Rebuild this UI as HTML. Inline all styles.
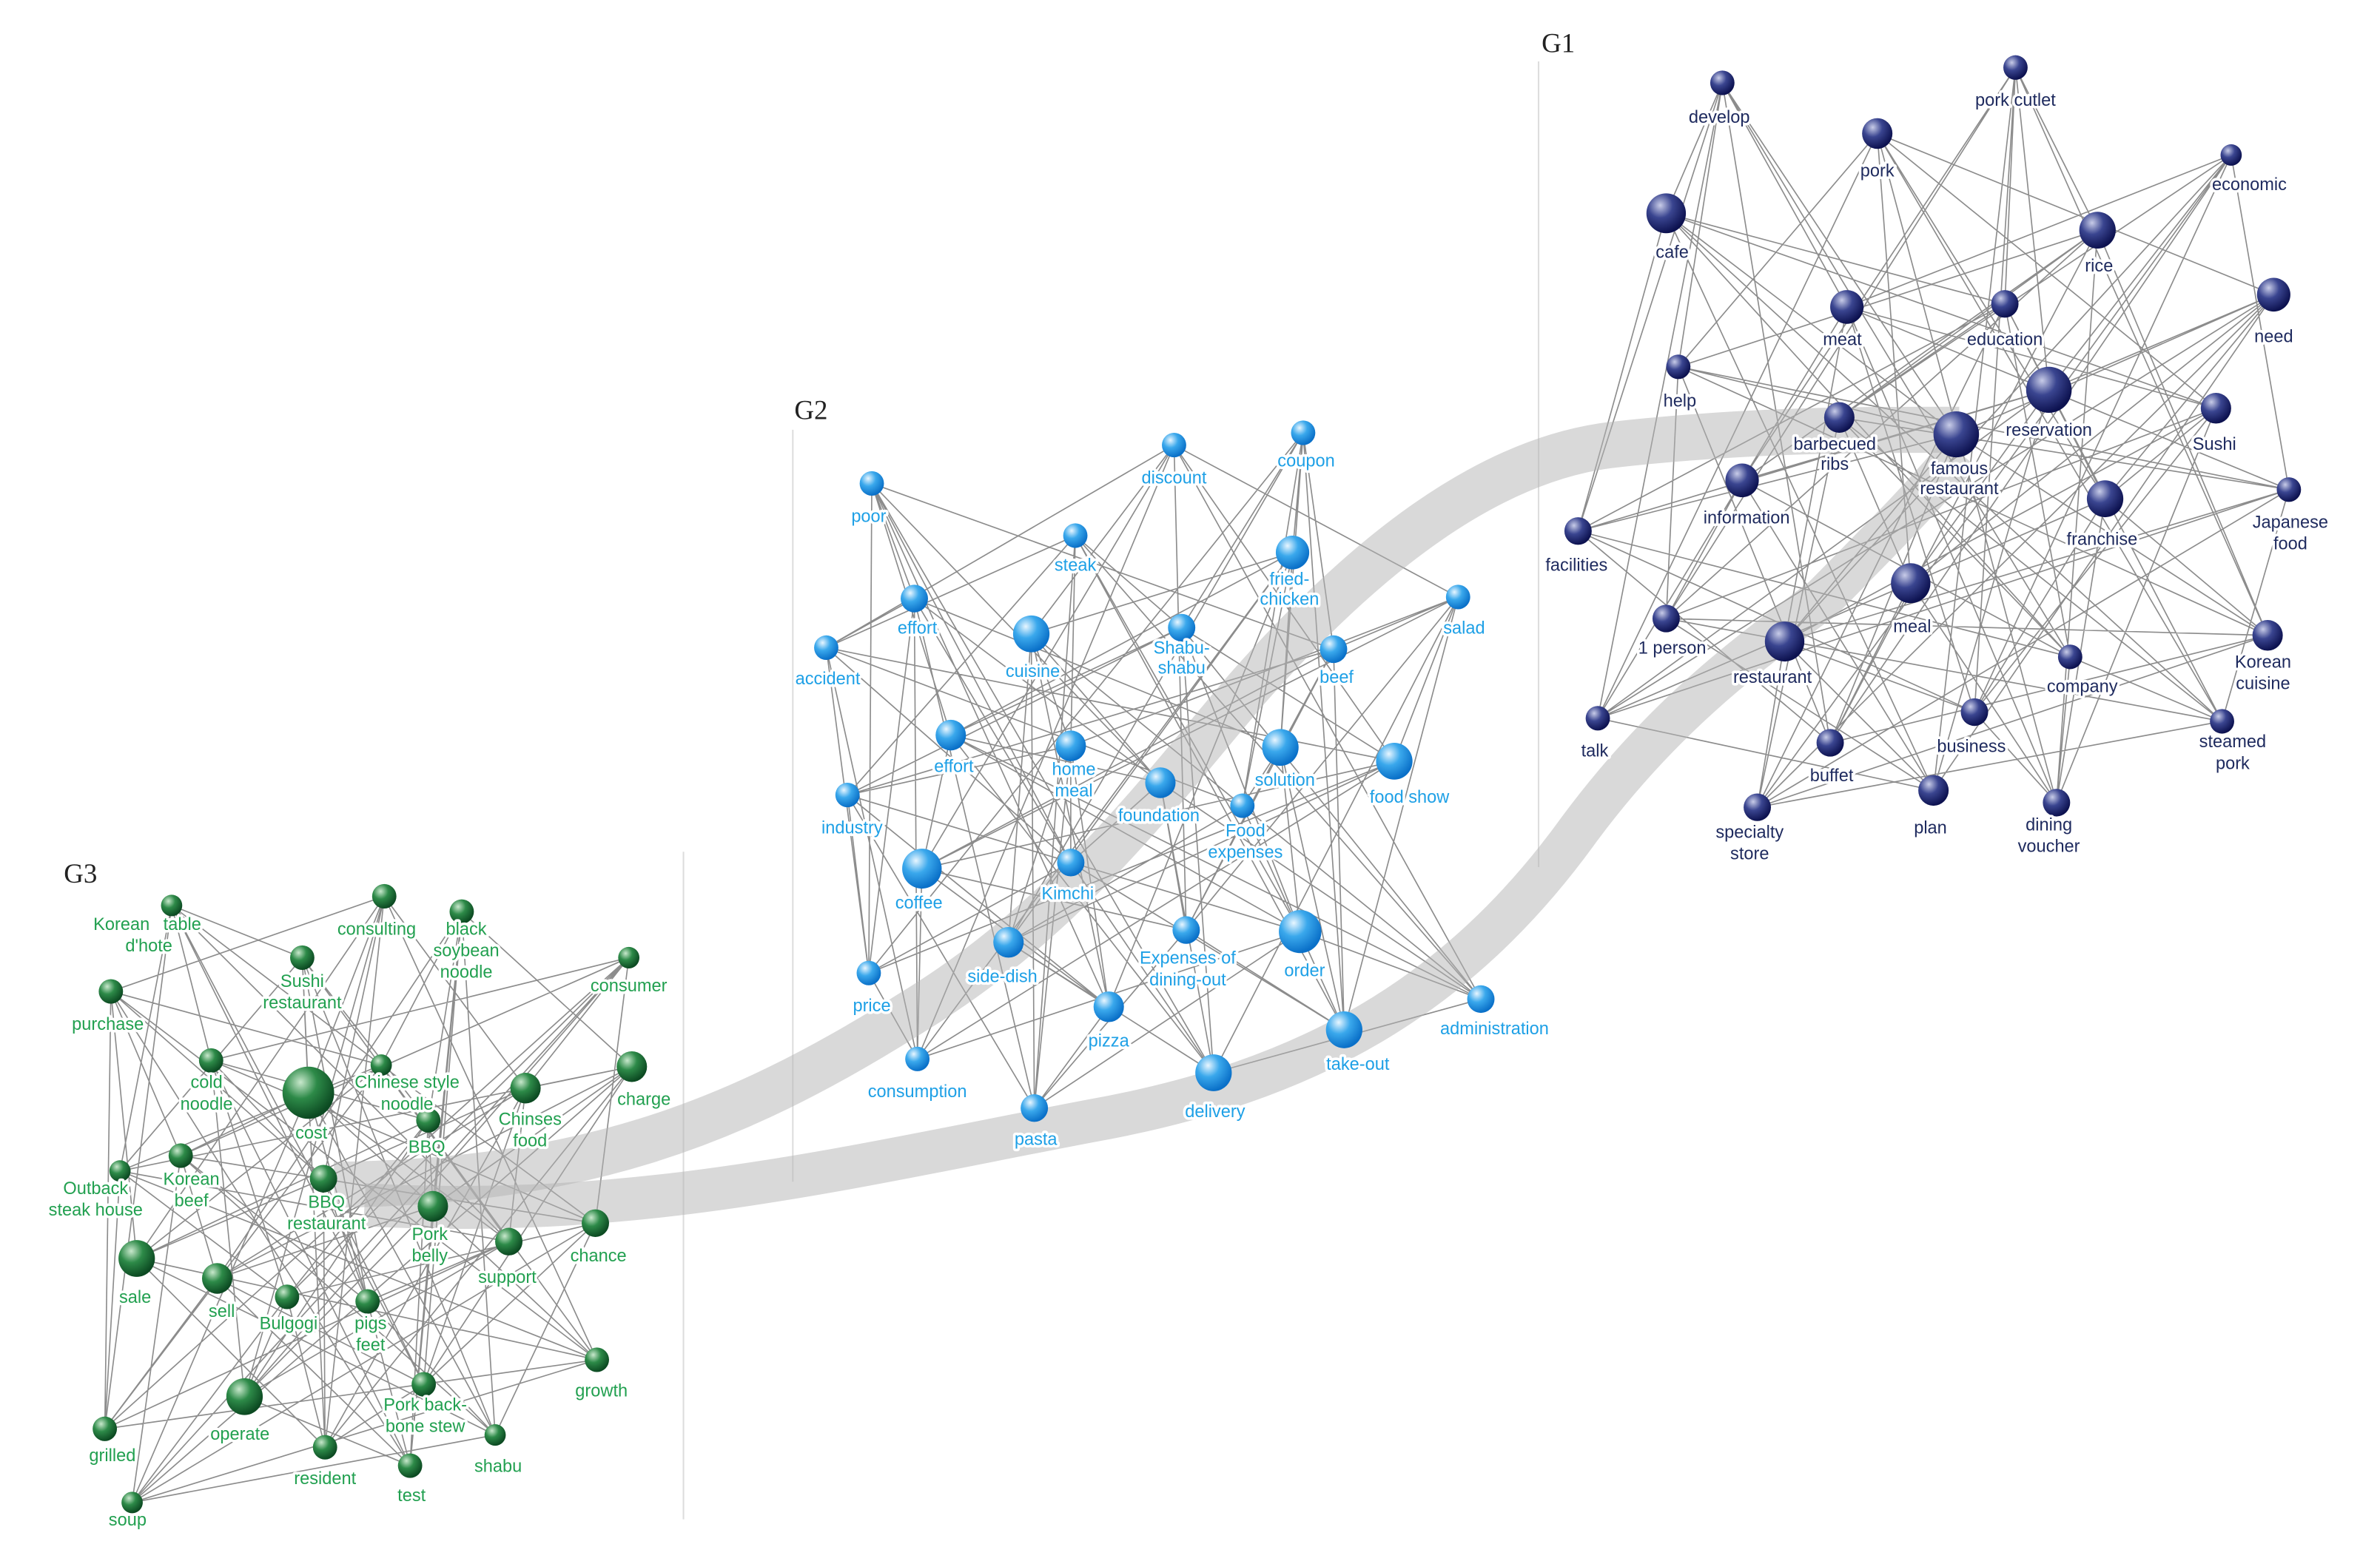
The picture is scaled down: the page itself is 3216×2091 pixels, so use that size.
<!DOCTYPE html>
<html><head><meta charset="utf-8">
<style>
html,body{margin:0;padding:0;background:#fff;}
svg{display:block}
text{font-family:"Liberation Sans",sans-serif;font-size:11.5px;text-anchor:middle;paint-order:stroke;stroke:#fff;stroke-width:3.5px;stroke-linejoin:round}
.g1 text{fill:#1e2a5e}
.g2 text{fill:#1ea0e6}
.g3 text{fill:#22a050}
.gl{font-family:"Liberation Serif",serif;font-size:18px;text-anchor:start;fill:#222;stroke:none}
</style></head><body>
<svg width="3216" height="2091" viewBox="0 0 1567 1008" preserveAspectRatio="none" xmlns="http://www.w3.org/2000/svg">
<defs>
<radialGradient id="b1" cx="35%" cy="30%" r="70%"><stop offset="0" stop-color="#c8cce8"/><stop offset="0.45" stop-color="#3a4590"/><stop offset="1" stop-color="#0d1250"/></radialGradient>
<radialGradient id="b2" cx="35%" cy="30%" r="70%"><stop offset="0" stop-color="#e8f6ff"/><stop offset="0.45" stop-color="#3aa8ec"/><stop offset="1" stop-color="#0a70c8"/></radialGradient>
<radialGradient id="b3" cx="35%" cy="30%" r="70%"><stop offset="0" stop-color="#c8e8cc"/><stop offset="0.45" stop-color="#2d8a48"/><stop offset="1" stop-color="#0c4a22"/></radialGradient>
</defs>
<g stroke="#ddd" stroke-width="1">
<line x1="1013" y1="40" x2="1013" y2="565"/>
<line x1="522" y1="280" x2="522" y2="770"/>
<line x1="450" y1="555" x2="450" y2="990"/>
</g>
<text class="gl" x="1015" y="34">G1</text>
<text class="gl" x="523" y="273">G2</text>
<text class="gl" x="42" y="575">G3</text>
<g stroke="#8c8c8c" stroke-width="0.8" fill="none">
<path d="M1097,139L1134,54L1105,239M1288,283L1134,54L1216,200M1381,150L1327,44L1349,254M1147,313L1327,44L1320,198M1497,192L1236,87L1459,266M1386,325L1236,87L1105,239M1216,200L1469,101L1211,272M1507,319L1469,101L1349,254M1320,198L1097,139L1288,283M1039,346L1097,139L1459,266M1105,239L1381,150L1147,313M1097,403L1381,150L1211,272M1349,254L1497,192L1386,325M1258,380L1497,192L1288,283M1459,266L1216,200L1507,319M1175,418L1216,200L1147,313M1211,272L1320,198L1039,346M1363,428L1320,198L1386,325M1288,283L1105,239L1097,403M1493,414L1105,239L1507,319M1147,313L1349,254L1258,380M1052,468L1349,254L1039,346M1386,325L1459,266L1175,418M1300,464L1459,266L1097,403M1507,319L1211,272L1363,428M1463,470L1211,272L1258,380M1039,346L1288,283L1493,414M1205,484L1288,283L1175,418M1097,403L1147,313L1052,468M1273,515L1147,313L1363,428M1258,380L1386,325L1300,464M1354,523L1386,325L1493,414M1175,418L1507,319L1463,470M1157,526L1507,319L1052,468M1363,428L1039,346L1205,484M1134,54L1039,346L1300,464M1493,414L1097,403L1273,515M1327,44L1097,403L1463,470M1052,468L1258,380L1354,523M1236,87L1258,380L1205,484M1300,464L1175,418L1157,526M1469,101L1175,418L1273,515M1463,470L1363,428L1134,54M1097,139L1363,428L1354,523M1205,484L1493,414L1327,44M1381,150L1493,414L1157,526M1273,515L1052,468L1236,87M1497,192L1052,468L1134,54M1354,523L1300,464L1469,101M1216,200L1300,464L1327,44M1157,526L1463,470L1097,139M1320,198L1463,470L1236,87M1134,54L1205,484L1381,150M1105,239L1205,484L1469,101M1327,44L1273,515L1497,192M1349,254L1273,515L1097,139M1236,87L1354,523L1216,200M1459,266L1354,523L1381,150M1469,101L1157,526L1320,198M1211,272L1157,526L1497,192"/>
<path d="M851,360L858,282L878,423M843,487L858,282L778,409M960,389L773,290L544,422M918,496L773,290L679,413M602,390L574,315L626,479M764,510L574,315L878,423M778,409L708,349L705,486M558,518L708,349L544,422M679,413L851,360L843,487M818,525L851,360L626,479M878,423L960,389L918,496M607,566L960,389L705,486M544,422L602,390L764,510M705,562L602,390L843,487M626,479L778,409L558,518M856,607L778,409L918,496M705,486L679,413L818,525M664,614L679,413L764,510M843,487L878,423L607,566M781,606L878,423L558,518M918,496L544,422L705,562M572,634L544,422L818,525M764,510L626,479L856,607M975,651L626,479L607,566M558,518L705,486L664,614M730,656L705,486L705,562M818,525L843,487L781,606M885,671L843,487L856,607M607,566L918,496L572,634M604,690L918,496L664,614M705,562L764,510L975,651M799,699L764,510L781,606M856,607L558,518L730,656M681,722L558,518L572,634M664,614L818,525L885,671M858,282L818,525L975,651M781,606L607,566L604,690M773,290L607,566L730,656M572,634L705,562L799,699M574,315L705,562L885,671M975,651L856,607L681,722M708,349L856,607L604,690M730,656L664,614L858,282M851,360L664,614L799,699M885,671L781,606L773,290M960,389L781,606L681,722M604,690L572,634L574,315M602,390L572,634L858,282M799,699L975,651L708,349M778,409L975,651L773,290M681,722L730,656L851,360M679,413L730,656L574,315M858,282L885,671L960,389M878,423L885,671L708,349M773,290L604,690L602,390M544,422L604,690L851,360M574,315L799,699L778,409M626,479L799,699L960,389M708,349L681,722L679,413M705,486L681,722L602,390"/>
<path d="M199,624L113,590L251,694M79,763L113,590L139,691M73,646L253,584L346,709M213,768L253,584L203,712M416,695L304,594L282,730M285,786L304,594L251,694M139,691L414,624L119,753M392,797L414,624L346,709M203,712L199,624L79,763M335,809L199,624L282,730M251,694L73,646L213,768M90,820L73,646L119,753M346,709L416,695L285,786M143,833L416,695L79,763M282,730L139,691L392,797M189,845L139,691L213,768M119,753L203,712L335,809M242,848L203,712L285,786M79,763L251,694L90,820M393,886L251,694L392,797M213,768L346,709L143,833M279,902L346,709L335,809M285,786L282,730L189,845M161,910L282,730L90,820M392,797L119,753L242,848M326,935L119,753L143,833M335,809L79,763L393,886M69,931L79,763L189,845M90,820L213,768L279,902M214,943L213,768L242,848M143,833L285,786L161,910M270,955L285,786L393,886M189,845L392,797L326,935M87,979L392,797L279,902M242,848L335,809L69,931M113,590L335,809L161,910M393,886L90,820L214,943M253,584L90,820L326,935M279,902L143,833L270,955M304,594L143,833L69,931M161,910L189,845L87,979M414,624L189,845L214,943M326,935L242,848L113,590M199,624L242,848L270,955M69,931L393,886L253,584M73,646L393,886L87,979M214,943L279,902L304,594M416,695L279,902L113,590M270,955L161,910L414,624M139,691L161,910L253,584M87,979L326,935L199,624M203,712L326,935L304,594M113,590L69,931L73,646M251,694L69,931L414,624M253,584L214,943L416,695M346,709L214,943L199,624M304,594L270,955L139,691M282,730L270,955L73,646M414,624L87,979L203,712M119,753L87,979L416,695"/>
</g>
<g fill="none" stroke="#b4b4b4" stroke-opacity="0.5" stroke-linecap="butt">
<path d="M220,772 C380,770 480,735 600,660 C700,600 760,520 820,450 C900,360 980,300 1060,290 C1150,280 1220,280 1290,280" stroke-width="30"/>
<path d="M240,785 C420,795 560,760 720,730 C860,705 960,650 1040,540 C1100,460 1160,420 1200,390 C1240,350 1270,320 1290,295" stroke-width="28"/>
</g>
<g fill="url(#b1)">
<circle cx="1134" cy="54" r="8"/><circle cx="1327" cy="44" r="8"/><circle cx="1236" cy="87" r="10"/><circle cx="1469" cy="101" r="7"/><circle cx="1097" cy="139" r="13"/><circle cx="1381" cy="150" r="12"/><circle cx="1497" cy="192" r="11"/><circle cx="1216" cy="200" r="11"/><circle cx="1320" cy="198" r="9"/><circle cx="1105" cy="239" r="8"/><circle cx="1349" cy="254" r="15"/><circle cx="1459" cy="266" r="10"/><circle cx="1211" cy="272" r="10"/><circle cx="1288" cy="283" r="15"/><circle cx="1147" cy="313" r="11"/><circle cx="1386" cy="325" r="12"/><circle cx="1507" cy="319" r="8"/><circle cx="1039" cy="346" r="9"/><circle cx="1097" cy="403" r="9"/><circle cx="1258" cy="380" r="13"/><circle cx="1175" cy="418" r="13"/><circle cx="1363" cy="428" r="8"/><circle cx="1493" cy="414" r="10"/><circle cx="1052" cy="468" r="8"/><circle cx="1300" cy="464" r="9"/><circle cx="1463" cy="470" r="8"/><circle cx="1205" cy="484" r="9"/><circle cx="1273" cy="515" r="10"/><circle cx="1354" cy="523" r="9"/><circle cx="1157" cy="526" r="9"/>
</g>
<g fill="url(#b2)">
<circle cx="858" cy="282" r="8"/><circle cx="773" cy="290" r="8"/><circle cx="574" cy="315" r="8"/><circle cx="708" cy="349" r="8"/><circle cx="851" cy="360" r="11"/><circle cx="960" cy="389" r="8"/><circle cx="602" cy="390" r="9"/><circle cx="778" cy="409" r="9"/><circle cx="679" cy="413" r="12"/><circle cx="878" cy="423" r="9"/><circle cx="544" cy="422" r="8"/><circle cx="626" cy="479" r="10"/><circle cx="705" cy="486" r="10"/><circle cx="843" cy="487" r="12"/><circle cx="918" cy="496" r="12"/><circle cx="764" cy="510" r="10"/><circle cx="558" cy="518" r="8"/><circle cx="818" cy="525" r="8"/><circle cx="607" cy="566" r="13"/><circle cx="705" cy="562" r="9"/><circle cx="856" cy="607" r="14"/><circle cx="664" cy="614" r="10"/><circle cx="781" cy="606" r="9"/><circle cx="572" cy="634" r="8"/><circle cx="975" cy="651" r="9"/><circle cx="730" cy="656" r="10"/><circle cx="885" cy="671" r="12"/><circle cx="604" cy="690" r="8"/><circle cx="799" cy="699" r="12"/><circle cx="681" cy="722" r="9"/>
</g>
<g fill="url(#b3)">
<circle cx="113" cy="590" r="7"/><circle cx="253" cy="584" r="8"/><circle cx="304" cy="594" r="8"/><circle cx="414" cy="624" r="7"/><circle cx="199" cy="624" r="8"/><circle cx="73" cy="646" r="8"/><circle cx="416" cy="695" r="10"/><circle cx="139" cy="691" r="8"/><circle cx="203" cy="712" r="17"/><circle cx="251" cy="694" r="7"/><circle cx="346" cy="709" r="10"/><circle cx="282" cy="730" r="8"/><circle cx="119" cy="753" r="8"/><circle cx="79" cy="763" r="7"/><circle cx="213" cy="768" r="9"/><circle cx="285" cy="786" r="10"/><circle cx="392" cy="797" r="9"/><circle cx="335" cy="809" r="9"/><circle cx="90" cy="820" r="12"/><circle cx="143" cy="833" r="10"/><circle cx="189" cy="845" r="8"/><circle cx="242" cy="848" r="8"/><circle cx="393" cy="886" r="8"/><circle cx="279" cy="902" r="8"/><circle cx="161" cy="910" r="12"/><circle cx="326" cy="935" r="7"/><circle cx="69" cy="931" r="8"/><circle cx="214" cy="943" r="8"/><circle cx="270" cy="955" r="8"/><circle cx="87" cy="979" r="7"/>
</g>
<g class="g1">
<text x="1132" y="80">develop</text><text x="1327" y="69">pork cutlet</text><text x="1236" y="115">pork</text>
<text x="1481" y="124">economic</text><text x="1101" y="168">cafe</text><text x="1382" y="177">rice</text>
<text x="1497" y="223">need</text><text x="1213" y="225">meat</text><text x="1320" y="225">education</text>
<text x="1106" y="265">help</text><text x="1349" y="284">reservation</text><text x="1458" y="293">Sushi</text>
<text x="1208" y="293">barbecued</text><text x="1208" y="306">ribs</text>
<text x="1290" y="309">famous</text><text x="1290" y="322">restaurant</text>
<text x="1150" y="341">information</text><text x="1384" y="355">franchise</text>
<text x="1508" y="344">Japanese</text><text x="1508" y="358">food</text>
<text x="1038" y="372">facilities</text><text x="1101" y="426">1 person</text><text x="1259" y="412">meal</text>
<text x="1167" y="445">restaurant</text><text x="1371" y="451">company</text>
<text x="1490" y="435">Korean</text><text x="1490" y="449">cuisine</text>
<text x="1050" y="493">talk</text><text x="1298" y="490">business</text>
<text x="1470" y="487">steamed</text><text x="1470" y="501">pork</text>
<text x="1206" y="509">buffet</text><text x="1271" y="543">plan</text>
<text x="1349" y="541">dining</text><text x="1349" y="555">voucher</text>
<text x="1152" y="546">specialty</text><text x="1152" y="560">store</text>
</g>
<g class="g2">
<text x="860" y="304">coupon</text><text x="773" y="315">discount</text><text x="572" y="340">poor</text>
<text x="708" y="372">steak</text><text x="849" y="381">fried-</text><text x="849" y="394">chicken</text>
<text x="964" y="413">salad</text><text x="604" y="413">effort</text>
<text x="778" y="426">Shabu-</text><text x="778" y="439">shabu</text>
<text x="680" y="441">cuisine</text><text x="880" y="445">beef</text><text x="545" y="446">accident</text>
<text x="628" y="503">effort</text><text x="707" y="505">home</text><text x="707" y="519">meal</text>
<text x="846" y="512">solution</text><text x="928" y="523">food show</text><text x="763" y="535">foundation</text>
<text x="561" y="543">industry</text><text x="820" y="545">Food</text><text x="820" y="559">expenses</text>
<text x="605" y="592">coffee</text><text x="703" y="586">Kimchi</text><text x="859" y="636">order</text>
<text x="660" y="640">side-dish</text><text x="782" y="628">Expenses of</text><text x="782" y="642">dining-out</text>
<text x="574" y="659">price</text><text x="984" y="674">administration</text><text x="730" y="682">pizza</text>
<text x="894" y="697">take-out</text><text x="604" y="715">consumption</text><text x="800" y="728">delivery</text>
<text x="682" y="746">pasta</text>
</g>
<g class="g3">
<text x="120" y="606">table</text><text x="248" y="609">consulting</text>
<text x="307" y="609">black</text><text x="307" y="623">soybean</text><text x="307" y="637">noodle</text>
<text x="80" y="606">Korean</text><text x="98" y="620">d'hote</text>
<text x="414" y="646">consumer</text><text x="199" y="643">Sushi</text><text x="199" y="657">restaurant</text>
<text x="71" y="671">purchase</text><text x="424" y="720">charge</text>
<text x="136" y="709">cold</text><text x="136" y="723">noodle</text><text x="205" y="742">cost</text>
<text x="268" y="709">Chinese style</text><text x="268" y="723">noodle</text>
<text x="349" y="733">Chinses</text><text x="349" y="747">food</text><text x="281" y="751">BBQ</text>
<text x="126" y="772">Korean</text><text x="126" y="786">beef</text>
<text x="63" y="778">Outback</text><text x="63" y="792">steak house</text>
<text x="215" y="787">BBQ</text><text x="215" y="801">restaurant</text>
<text x="283" y="808">Pork</text><text x="283" y="822">belly</text>
<text x="394" y="822">chance</text><text x="334" y="836">support</text><text x="89" y="849">sale</text>
<text x="146" y="858">sell</text><text x="190" y="866">Bulgogi</text>
<text x="244" y="866">pigs</text><text x="244" y="880">feet</text><text x="396" y="910">growth</text>
<text x="280" y="919">Pork back-</text><text x="280" y="933">bone stew</text>
<text x="158" y="938">operate</text><text x="328" y="959">shabu</text><text x="74" y="952">grilled</text>
<text x="214" y="967">resident</text><text x="271" y="978">test</text><text x="84" y="994">soup</text>
</g>
</svg>
</body></html>
